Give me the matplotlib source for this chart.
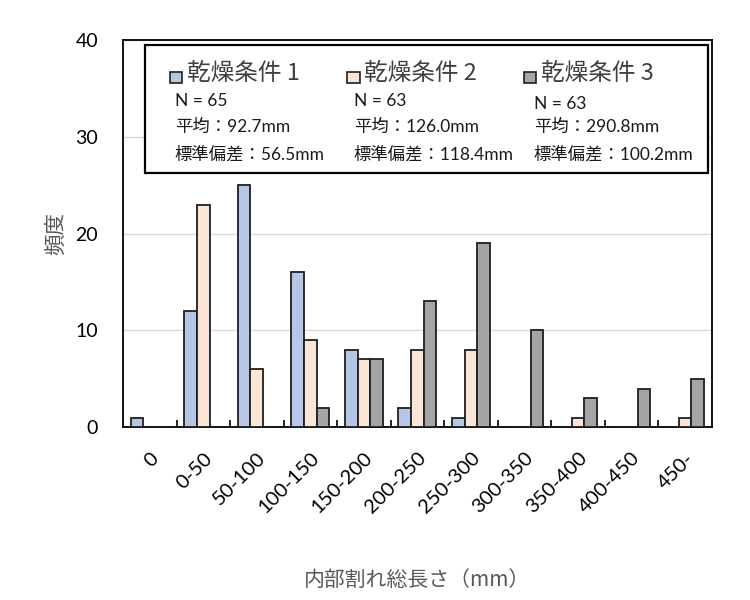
import numpy as np
import matplotlib
matplotlib.use("Agg")
from matplotlib import pyplot as plt
from matplotlib.patches import Rectangle

plt.rcParams['font.family'] = ['Noto Sans CJK JP', 'DejaVu Sans']
latin = ['Lato', 'Noto Sans CJK JP']

# 階級と頻度
kaikyu = ["0", "0-50", "50-100", "100-150", "150-200", "200-250",
          "250-300", "300-350", "350-400", "400-450", "450-"]
joken1 = [1, 12, 25, 16, 8, 2, 1, 0, 0, 0, 0]
joken2 = [0, 23, 6, 9, 7, 8, 8, 0, 1, 0, 1]
joken3 = [0, 0, 0, 2, 7, 13, 19, 10, 3, 4, 5]
names = ["乾燥条件 1", "乾燥条件 2", "乾燥条件 3"]
n_list = ["N = 65", "N = 63", "N = 63"]
heikin = ["平均：92.7mm", "平均：126.0mm", "平均：290.8mm"]
hensa = ["標準偏差：56.5mm", "標準偏差：118.4mm", "標準偏差：100.2mm"]

colors = ["#B4C7E7", "#FBE5D6", "#A5A5A5"]
edge = "#1f1f1f"

fig = plt.figure(figsize=(7.5, 6), dpi=100)
ax = fig.add_axes([0.164, 0.288, 0.785, 0.645])

x = np.arange(len(kaikyu))
w = 0.237
for i, vals in enumerate([joken1, joken2, joken3]):
    ax.bar(x + (i - 1) * w, vals, w, color=colors[i], edgecolor=edge, linewidth=1.3, zorder=3)

ax.set_xlim(-0.5, len(kaikyu) - 0.5)
ax.set_ylim(0, 40)
ax.set_yticks([0, 10, 20, 30, 40])
ax.set_yticklabels(["0", "10", "20", "30", "40"], family=latin, fontsize=14)
ax.grid(axis='y', color="#D9D9D9", linewidth=1, zorder=0)
ax.set_xticks(x)
ax.set_xticklabels(kaikyu, rotation=45, ha='right', rotation_mode='anchor',
                   fontsize=14.5, family=latin, color="#000000")
ax.set_xticks(np.arange(0.5, len(kaikyu) - 0.5, 1), minor=True)
ax.tick_params(axis='x', which='major', length=0, pad=16)
ax.tick_params(axis='x', which='minor', direction='in', length=5, width=1.2, color="#000000")
ax.tick_params(axis='y', length=0, pad=18)
for s in ax.spines.values():
    s.set_color("#000000")
    s.set_linewidth(1.3)

ax.set_ylabel("頻度", fontsize=15.5, color="#595959", labelpad=6)
ax.set_xlabel("内部割れ総長さ（mm）", fontsize=15, color="#595959", labelpad=38)

# 凡例の枠
ax.add_patch(Rectangle((0.037, 0.656), 0.956, 0.331, transform=ax.transAxes,
                       facecolor="white", edgecolor="#000000", linewidth=1.6, zorder=5))

hx = [0.080, 0.381, 0.681]
sx = [0.088, 0.392, 0.698]
ny = [0.842, 0.842, 0.836]
for i in range(3):
    ax.add_patch(Rectangle((hx[i], 0.890), 0.021, 0.028, transform=ax.transAxes,
                           facecolor=colors[i], edgecolor=edge, linewidth=1.2, zorder=6))
    ax.text(hx[i] + 0.029, 0.913, names[i], transform=ax.transAxes, fontsize=17,
            color="#404040", va='center', ha='left', zorder=7)
    ax.text(sx[i], ny[i], n_list[i], transform=ax.transAxes, fontsize=12.5,
            family=latin, color="#1a1a1a", va='center', ha='left', zorder=7)
    ax.text(sx[i], 0.777, heikin[i], transform=ax.transAxes, fontsize=12.5,
            family=latin, color="#1a1a1a", va='center', ha='left', zorder=7)
    ax.text(sx[i], 0.706, hensa[i], transform=ax.transAxes, fontsize=12.5,
            family=latin, color="#1a1a1a", va='center', ha='left', zorder=7)

fig.savefig("out.png", dpi=100)
